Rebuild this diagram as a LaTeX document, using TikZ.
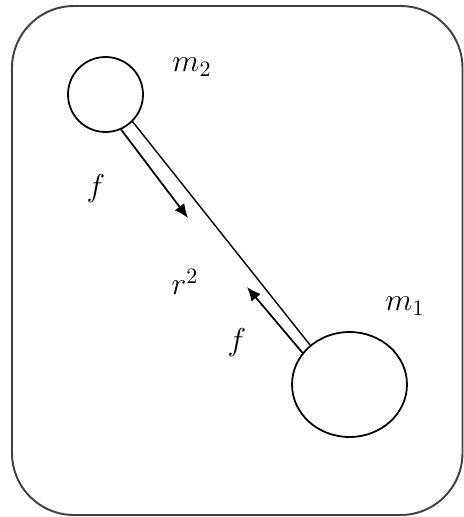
\documentclass[tikz,border=0pt]{standalone}
\usepackage{amsmath}
\usetikzlibrary{arrows.meta,shapes.geometric}
\begin{document}
\begin{tikzpicture}[x=0.2mm,y=-0.2mm,
  mass/.style={draw,line width=1pt,inner sep=0pt},
  lbl/.style={font=\Large,scale=1.25,inner sep=0pt},
  rod/.style={line width=0.8pt},
  arr/.style={-{Latex[length=2.8mm,width=2.4mm]},line width=1pt}]
\useasboundingbox (0,0) rectangle (464,517);
\draw[line width=1.1pt,black!75,rounded corners=12.4mm] (12,6) rectangle (462.5,515);
\node[mass,circle,minimum size=15mm] (m2) at (105.5,94.5) {};
\node[mass,ellipse,minimum width=23mm,minimum height=21mm] (m1) at (349.5,384.5) {};
\node[lbl] (lm2) at (192,67) {$m_2$};
\node[lbl] (lm1) at (405,306) {$m_1$};
\node[lbl] (lf2) at (96,189) {$f$};
\node[lbl] (lf1) at (237,343) {$f$};
\node[lbl] (lr) at (185,282) {$r^2$};
\coordinate (f2tip) at (188,218);
\coordinate (f1tip) at (247,287);
\draw[rod] (m2.-45) -- (m1.135);
\draw[arr] (m2.-66) -- (f2tip);
\draw[arr] (m1.146) -- (f1tip);
\end{tikzpicture}
\end{document}
